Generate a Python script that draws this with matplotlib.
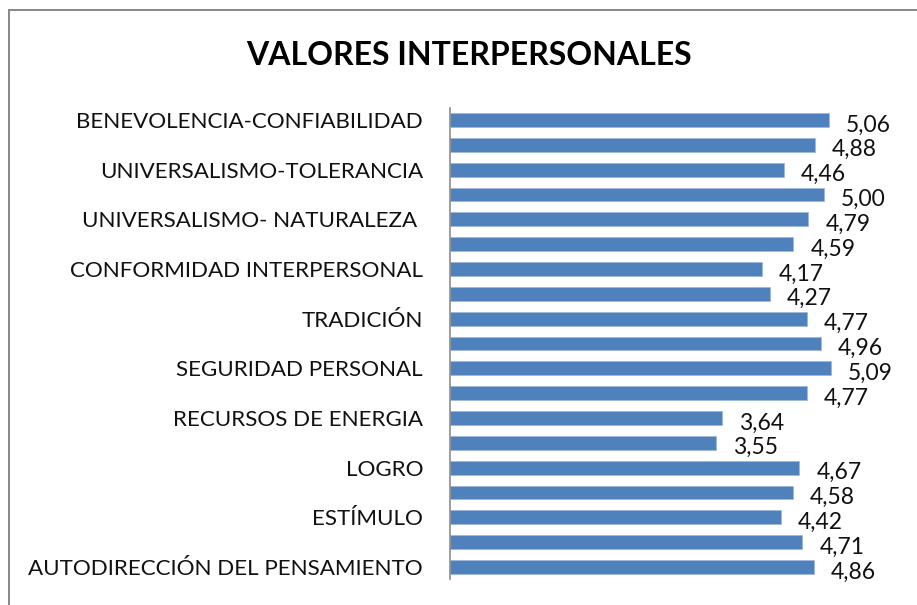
import matplotlib
matplotlib.use("Agg")
import matplotlib.pyplot as plt
from matplotlib.patches import Rectangle

plt.rcParams['font.family'] = ['Lato', 'DejaVu Sans']

title = "VALORES INTERPERSONALES"
values = [5.06, 4.88, 4.46, 5.00, 4.79, 4.59, 4.17, 4.27, 4.77, 4.96,
          5.09, 4.77, 3.64, 3.55, 4.67, 4.58, 4.42, 4.71, 4.86]
tick_labels = ["BENEVOLENCIA-CONFIABILIDAD", "UNIVERSALISMO-TOLERANCIA",
               "UNIVERSALISMO- NATURALEZA ", "CONFORMIDAD INTERPERSONAL",
               "TRADICIÓN", "SEGURIDAD PERSONAL", "RECURSOS DE ENERGIA",
               "LOGRO", "ESTÍMULO", "AUTODIRECCIÓN DEL PENSAMIENTO"]

W, H = 917, 605
fig = plt.figure(figsize=(W / 100, H / 100), dpi=100)

# chart border (Excel chart area)
fig.patches.append(Rectangle((9 / W, -0.1), 1.2, 1 - 10 / H + 0.1,
                             transform=fig.transFigure, fill=False,
                             edgecolor='#868686', linewidth=1.4))

ax_left, ax_right = 450 / W, 899 / W
ax_top, ax_bot = 1 - 107.6 / H, 1 - 579.4 / H
ax = fig.add_axes([ax_left, ax_bot, ax_right - ax_left, ax_top - ax_bot])

n = len(values)
pos = list(range(n))
ax.barh(pos, values, height=0.56, color='#4F81BD', edgecolor='#9DB8DB',
        linewidth=0.6)
ax.set_xlim(0, 6)
ax.set_ylim(n - 0.5, -0.5)

ax.set_yticks(pos[::2])
ax.set_yticklabels(tick_labels, fontsize=16.1, color='#111111')
ax.tick_params(axis='y', length=0, pad=19.4)
ax.set_xticks([])

for s in ['top', 'right', 'bottom']:
    ax.spines[s].set_visible(False)
ax.spines['left'].set_color('#8C8C8C')
ax.spines['left'].set_linewidth(1.2)

for p, v in zip(pos, values):
    ax.annotate(f"{v:.2f}".replace('.', ','), xy=(v, p),
                xytext=(12.2, -8.2), textcoords='offset points',
                ha='left', va='baseline', fontsize=16.5, color='#111111')

fig.text(469 / W, 1 - 65 / H, title, ha='center', va='baseline',
         fontsize=23, fontweight='bold', color='#000000')

fig.savefig("out.png", dpi=100)
